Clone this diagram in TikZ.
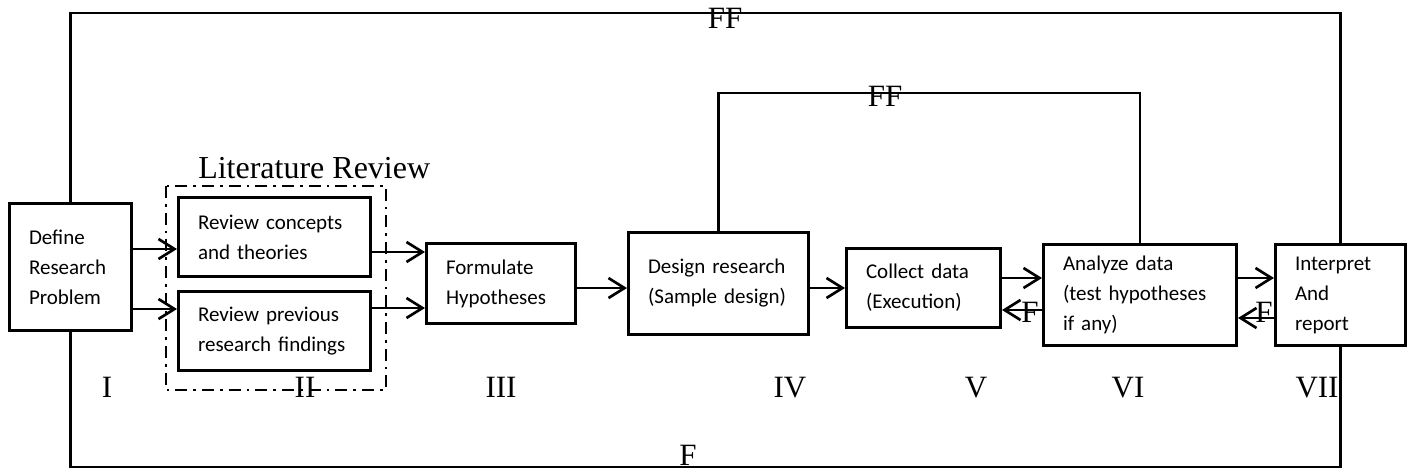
\documentclass[tikz,border=0pt]{standalone}
\usepackage{fontspec}
\setmainfont{Liberation Serif}
\newfontfamily\boxfont{Carlito}
\usetikzlibrary{arrows.meta}

\begin{document}
\begin{tikzpicture}[
    x = 0.75pt, y = -0.75pt,
    stepstyle/.style  = {draw,
                        line width=2.2pt,
                        align=left,
                        inner xsep=14.65pt,
                        inner ysep=0pt,
                        font=\boxfont\fontsize{15.75}{22.5}\selectfont},
    romanstyle/.style = {inner sep=0pt,
                        anchor=base,
                        font=\fontsize{23.25}{28}\selectfont},
    arr/.style        = {line width=2pt,
                        -{Straight Barb[length=12pt,width=15pt,line width=2pt]}},
    loopstyle/.style  = {line width=1.8pt},
    framestyle/.style = {line width=2pt,
                        dash pattern=on 9pt off 4.5pt on 2pt off 4.5pt}
]
\useasboundingbox (0,0) rectangle (1412,471);

% stages of the research process
\node (define) [stepstyle, text width=62.25pt, minimum height=95.3pt] at (70.5,267) {
Define\\Research\\Problem};
\node (concepts) [stepstyle, text width=114.75pt, minimum height=59.3pt] at (274.5,237) {
Review concepts\\and theories};
\node (previous) [stepstyle, text width=114.75pt, minimum height=59.3pt] at (274.5,331) {
Review previous\\research findings};
\node (formulate) [stepstyle, text width=82.5pt, minimum height=60pt] at (501,283.5) {
Formulate\\Hypotheses};
\node (design) [stepstyle, text width=105.75pt, minimum height=76.5pt] at (718.5,283.5) {
Design research\\(Sample design)};
\node (collect) [stepstyle, text width=86.25pt, minimum height=59.3pt] at (923.5,288) {
Collect data\\(Execution)};
\node (analyze) [stepstyle, text width=115.5pt, minimum height=75.8pt] at (1140,295) {
Analyze data\\(test hypotheses\\if any)};
\node (interpret) [stepstyle, text width=68.25pt, minimum height=75.8pt] at (1340.5,295) {
Interpret\\And\\report};

% literature review group
\draw[framestyle] ([shift={(-11,-10)}]concepts.north west) rectangle ([shift={(14,18)}]previous.south east);
\node (litlabel) [romanstyle, anchor=base west, font=\fontsize{24}{29}\selectfont] at (198,178) {Literature Review};

% forward arrows
\coordinate (c1) at ([yshift=-9pt]concepts.west);
\coordinate (p1) at ([yshift=16.5pt]previous.west);
\coordinate (c2) at ([yshift=-11.25pt]concepts.east);
\coordinate (p2) at ([yshift=17.25pt]previous.east);
\draw[arr] (define.east |- c1) -- (c1);
\draw[arr] (define.east |- p1) -- (p1);
\draw[arr] (c2) -- (formulate.west |- c2);
\draw[arr] (p2) -- (formulate.west |- p2);
\draw[arr] ([yshift=-3.4pt]formulate.east) -- ([yshift=-3.4pt]design.west);
\draw[arr] (design.east |- collect.west) -- (collect.west);
\draw[arr] ([yshift=7.5pt]collect.east) -- ([yshift=12.75pt]analyze.west);
\draw[arr] ([yshift=12.75pt]analyze.east) -- ([yshift=12.75pt]interpret.west);

% feedback arrows
\draw[arr] ([yshift=-11.25pt]analyze.west) -- node (fb1) [romanstyle, anchor=center, pos=.3, yshift=-1.5pt] {F} ([yshift=-16.5pt]collect.east);
\draw[arr] ([yshift=-17.25pt]interpret.west) -- node (fb2) [romanstyle, anchor=center, pos=.28, yshift=4.5pt] {F} ([yshift=-17.25pt]analyze.east);

% feedback loops
\coordinate (outtop) at (725,13);
\coordinate (outbot) at (688,467);
\coordinate (intop) at (885,93);
\draw[loopstyle] (define.north) |- (outtop) -| (interpret.north);
\draw[loopstyle] (define.south) |- (outbot) -| (interpret.south);
\draw[loopstyle] (design.north) |- (intop) -| (analyze.north);
\node (ffout) [romanstyle] at (725,28) {FF};
\node (ffin) [romanstyle] at (885,106) {FF};
\node (fbot) [romanstyle] at (688,465) {F};

% stage numbers
\node (nI)   [romanstyle] at (107,397) {I};
\node (nII)  [romanstyle] at (305,397) {II};
\node (nIII) [romanstyle] at (501,397) {III};
\node (nIV)  [romanstyle] at (790,397) {IV};
\node (nV)   [romanstyle] at (976,397) {V};
\node (nVI)  [romanstyle] at (1128,397) {VI};
\node (nVII) [romanstyle] at (1317,397) {VII};

\end{tikzpicture}
\end{document}
